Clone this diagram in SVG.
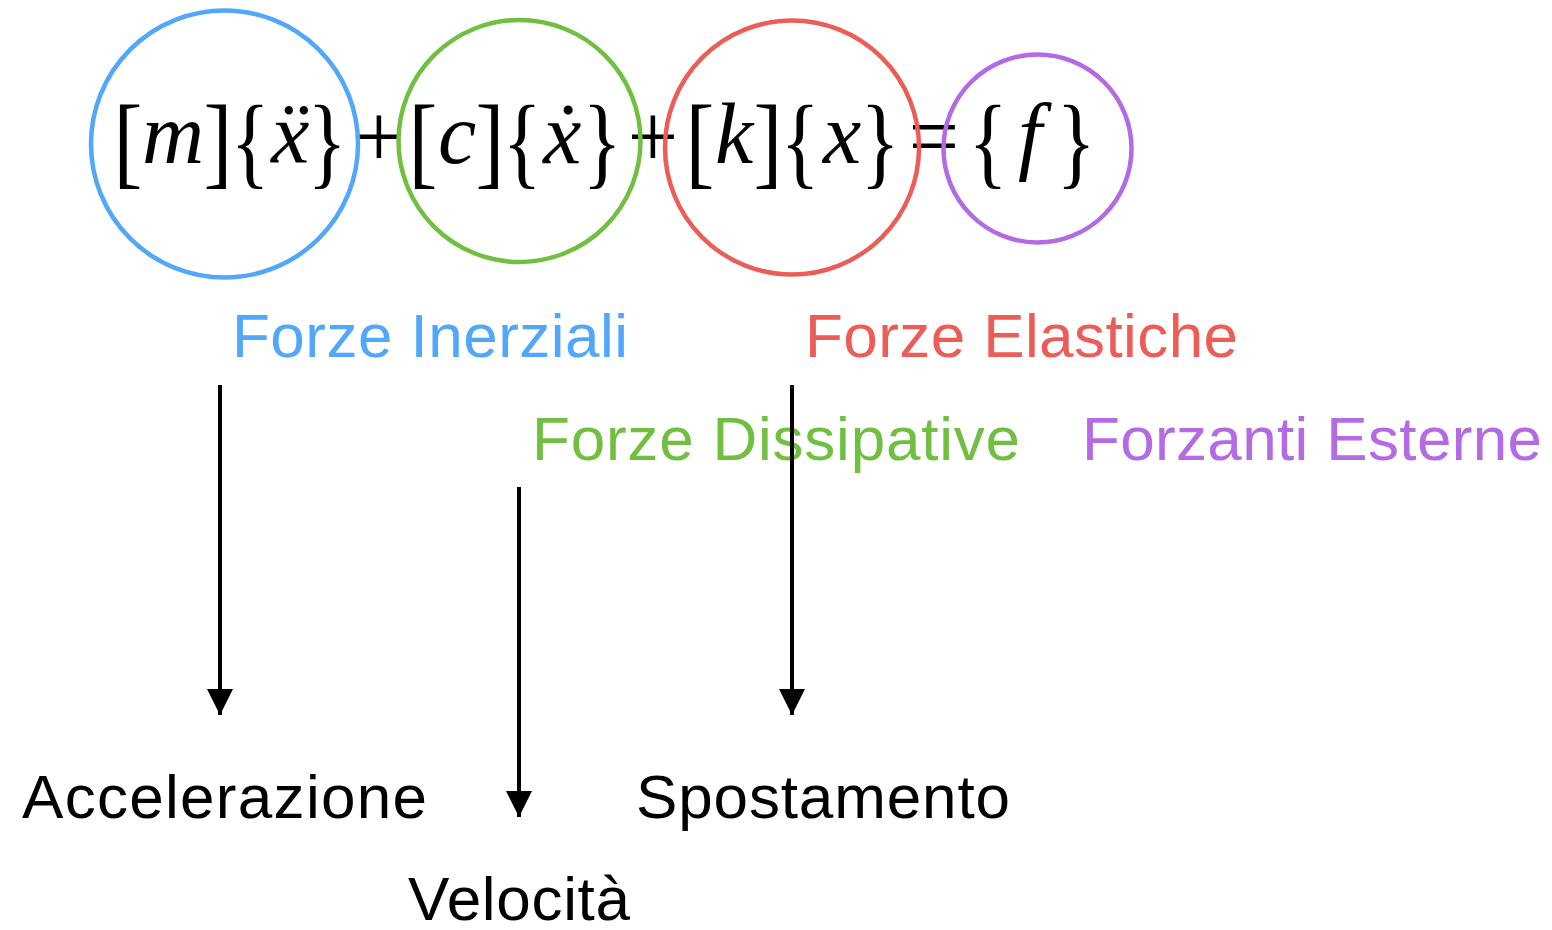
<svg xmlns="http://www.w3.org/2000/svg" width="1552" height="930" viewBox="0 0 1552 930">
<style>
.eq{font-family:"Liberation Serif","DejaVu Serif",serif;fill:#000;text-anchor:middle}
.br{font-size:102px}
.it{font-style:italic;font-size:86px}
.op{font-size:90px}
.lbl{font-family:"Liberation Sans",Arial,sans-serif;font-size:62px}
.ring{fill:none;stroke-width:4.5}
.conn{stroke:#000;stroke-width:4;fill:none}
</style>
<defs>
<marker id="ah" markerUnits="userSpaceOnUse" markerWidth="28" markerHeight="28" viewBox="0 0 28 28" refX="26" refY="14" orient="auto">
<path d="M0,1 L26,14 L0,27 Z" fill="#000"/>
</marker>
</defs>
<rect width="1552" height="930" fill="#fff"/>
<g id="equation">
<text class="eq br" transform="translate(128,175) scale(0.85,1)">[</text>
<text class="eq it" x="173" y="163">m</text>
<text class="eq br" transform="translate(218,175) scale(0.85,1)">]</text>
<text class="eq br" transform="translate(250,175) scale(0.8,1)">{</text>
<text class="eq it" x="290" y="163">ẍ</text>
<text class="eq br" transform="translate(327,175) scale(0.8,1)">}</text>
<text class="eq op" x="379" y="167">+</text>
<text class="eq br" transform="translate(423,175) scale(0.85,1)">[</text>
<text class="eq it" x="457" y="163">c</text>
<text class="eq br" transform="translate(490,175) scale(0.85,1)">]</text>
<text class="eq br" transform="translate(522,175) scale(0.8,1)">{</text>
<text class="eq it" x="562" y="163">ẋ</text>
<text class="eq br" transform="translate(602,175) scale(0.8,1)">}</text>
<text class="eq op" x="653" y="167">+</text>
<text class="eq br" transform="translate(700,175) scale(0.85,1)">[</text>
<text class="eq it" x="734" y="163">k</text>
<text class="eq br" transform="translate(768,175) scale(0.85,1)">]</text>
<text class="eq br" transform="translate(800,175) scale(0.8,1)">{</text>
<text class="eq it" x="842" y="163">x</text>
<text class="eq br" transform="translate(880,175) scale(0.8,1)">}</text>
<text class="eq op" x="934" y="167">=</text>
<text class="eq br" transform="translate(988,175) scale(0.8,1)">{</text>
<text class="eq it" x="1030" y="163">f</text>
<text class="eq br" transform="translate(1076,175) scale(0.8,1)">}</text>
</g>
<g id="node-inerziali">
<circle class="ring" cx="224.5" cy="144" r="133.5" stroke="#51A7F9"/>
<text class="lbl" x="232" y="357" fill="#51A7F9" textLength="396">Forze Inerziali</text>
</g>
<g id="node-dissipative">
<circle class="ring" cx="519.5" cy="141" r="121" stroke="#70BF41"/>
<text class="lbl" x="532" y="460" fill="#70BF41" textLength="488">Forze Dissipative</text>
</g>
<g id="node-elastiche">
<circle class="ring" cx="792" cy="147.5" r="127" stroke="#EC5D57"/>
<text class="lbl" x="805" y="357" fill="#EC5D57" textLength="433">Forze Elastiche</text>
</g>
<g id="node-forzanti">
<circle class="ring" cx="1037.5" cy="148.5" r="94" stroke="#B36AE2"/>
<text class="lbl" x="1082" y="460" fill="#B36AE2" textLength="460">Forzanti Esterne</text>
</g>
<g id="node-accelerazione">
<text class="lbl" x="22" y="818" fill="#000" textLength="405">Accelerazione</text>
</g>
<g id="node-velocita">
<text class="lbl" x="408" y="920" fill="#000" textLength="222">Velocità</text>
</g>
<g id="node-spostamento">
<text class="lbl" x="636" y="818" fill="#000" textLength="374">Spostamento</text>
</g>
<g id="connectors">
<line class="conn" x1="220" y1="385" x2="220" y2="715" marker-end="url(#ah)"/>
<line class="conn" x1="519" y1="487" x2="519" y2="817" marker-end="url(#ah)"/>
<line class="conn" x1="792" y1="385" x2="792" y2="715" marker-end="url(#ah)"/>
</g>
</svg>
